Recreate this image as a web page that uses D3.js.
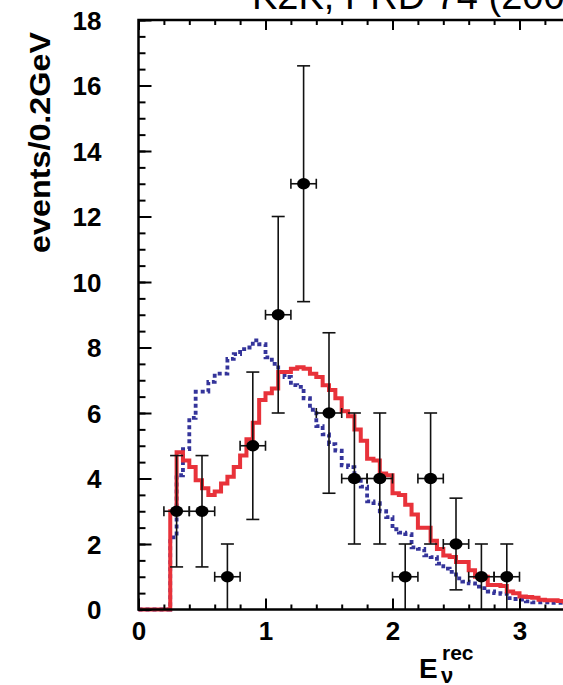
<!DOCTYPE html>
<html>
<head>
<meta charset="utf-8">
<script src="https://cdn.jsdelivr.net/npm/d3@7"></script>
<style>
  body { margin: 0; background: #fff; }
  svg { display: block; }
  text { font-family: "Liberation Sans", Arial, Helvetica, sans-serif; }
</style>
</head>
<body>
<div id="wrapper"></div>
<script>
// histogram bins (0.05 GeV wide, starting at 0)
const binWidth = 0.05
const redHist = [0, 0, 0, 0, 0, 3.0, 4.8, 4.55, 4.35, 3.95,
  3.7, 3.5, 3.6, 3.85, 4.05, 4.35, 4.7, 5.2, 5.7, 6.4,
  6.6, 6.75, 7.25, 7.25, 7.35, 7.4, 7.35, 7.2, 7.1, 6.85,
  6.7, 6.45, 6.05, 5.9, 5.5, 5.15, 4.6, 4.55, 4.15, 4.1,
  3.55, 3.5, 3.2, 2.9, 2.5, 2.5, 2.1, 1.85, 1.65, 1.6,
  1.45, 1.45, 1.2, 1.0, 1.0, 0.75, 0.75, 0.72, 0.55, 0.5,
  0.4, 0.38, 0.36, 0.3, 0.28, 0.28, 0.26, 0.24]
const blueHist = [0, 0, 0, 0, 0, 2.2, 4.1, 4.9, 5.85, 6.65,
  6.65, 6.95, 7.2, 7.2, 7.65, 7.8, 7.95, 8.0, 8.22, 8.1,
  7.7, 7.5, 7.25, 7.1, 6.85, 6.8, 6.45, 6.1, 5.6, 5.35,
  5.05, 4.85, 4.4, 4.35, 4.0, 3.75, 3.3, 3.25, 3.0, 2.82,
  2.45, 2.35, 2.3, 1.9, 1.85, 1.65, 1.6, 1.4, 1.25, 1.15,
  0.95, 0.85, 0.8, 0.7, 0.65, 0.55, 0.5, 0.48, 0.35, 0.32,
  0.3, 0.25, 0.22, 0.22, 0.22, 0.2, 0.2, 0.2]

// data points (0.2 GeV bins)
const ptE = [0.3, 0.5, 0.7, 0.9, 1.1, 1.3, 1.5, 1.7, 1.9, 2.1, 2.3, 2.5, 2.7, 2.9]
const ptN = [3, 3, 1, 5, 9, 13, 6, 4, 4, 1, 4, 2, 1, 1]
const ptErr = [1.7, 1.7, 1.0, 2.25, 3.0, 3.6, 2.45, 2.0, 2.0, 1.0, 2.0, 1.4, 1.0, 1.0]
const ptHalfWidth = 0.1

// ticks
const yMajor = [0, 2, 4, 6, 8, 10, 12, 14, 16, 18]
const yMinor = d3.range(0, 18.01, 0.5)
const xMajor = [0, 1, 2, 3]
const xMinor = d3.range(0, 3.41, 0.2)

const svgWidth = 563
const svgHeight = 685
const plotLeft = 138.5
const plotBottom = 609.5
const plotTop = 20

const svg = d3.select("#wrapper").append("svg")
  .attr("width", svgWidth)
  .attr("height", svgHeight)

const xScale = d3.scaleLinear().domain([0, 3.4]).range([plotLeft, plotLeft + 3.4 * 127])
const yScale = d3.scaleLinear().domain([0, 18]).range([plotBottom, plotTop])

// title, cut off at the top of the picture
svg.append("text")
  .attr("x", 252)
  .attr("y", 9)
  .style("font-size", "38px")
  .text("K2K, PRD 74 (2006)")

const plot = svg.append("g")

// histograms as steps
const stepLine = d3.line()
  .x(d => xScale(d[0]))
  .y(d => yScale(d[1]))
  .curve(d3.curveStepAfter)

const toSteps = vals => {
  const pts = vals.map((v, i) => [i * binWidth, v])
  pts.push([vals.length * binWidth, vals[vals.length - 1]])
  return pts
}

plot.append("path")
  .attr("d", stepLine(toSteps(blueHist)))
  .attr("fill", "none")
  .attr("stroke", "#34349a")
  .attr("stroke-width", 3.8)
  .attr("stroke-dasharray", "4,3")

plot.append("path")
  .attr("d", stepLine(toSteps(redHist)))
  .attr("fill", "none")
  .attr("stroke", "#e8323a")
  .attr("stroke-width", 4)

// data points with error bars
const points = ptE.map((e, i) => ({ e, n: ptN[i], err: ptErr[i] }))

const pts = plot.selectAll(".pt")
  .data(points)
  .join("g")
  .attr("class", "pt")
  .attr("stroke", "#111")
  .attr("stroke-width", 1.6)

pts.append("line")
  .attr("x1", d => xScale(d.e))
  .attr("x2", d => xScale(d.e))
  .attr("y1", d => yScale(Math.max(0, d.n - d.err)))
  .attr("y2", d => yScale(d.n + d.err))
pts.append("line")
  .attr("x1", d => xScale(d.e) - 6.5)
  .attr("x2", d => xScale(d.e) + 6.5)
  .attr("y1", d => yScale(d.n + d.err))
  .attr("y2", d => yScale(d.n + d.err))
pts.filter(d => d.n - d.err > 0.01).append("line")
  .attr("x1", d => xScale(d.e) - 6.5)
  .attr("x2", d => xScale(d.e) + 6.5)
  .attr("y1", d => yScale(d.n - d.err))
  .attr("y2", d => yScale(d.n - d.err))
pts.append("line")
  .attr("x1", d => xScale(d.e - ptHalfWidth))
  .attr("x2", d => xScale(d.e + ptHalfWidth))
  .attr("y1", d => yScale(d.n))
  .attr("y2", d => yScale(d.n))
pts.append("line")
  .attr("x1", d => xScale(d.e - ptHalfWidth))
  .attr("x2", d => xScale(d.e - ptHalfWidth))
  .attr("y1", d => yScale(d.n) - 5)
  .attr("y2", d => yScale(d.n) + 5)
pts.append("line")
  .attr("x1", d => xScale(d.e + ptHalfWidth))
  .attr("x2", d => xScale(d.e + ptHalfWidth))
  .attr("y1", d => yScale(d.n) - 5)
  .attr("y2", d => yScale(d.n) + 5)
pts.append("ellipse")
  .attr("cx", d => xScale(d.e))
  .attr("cy", d => yScale(d.n))
  .attr("rx", 6.5)
  .attr("ry", 5.8)
  .attr("fill", "#000")
  .attr("stroke", "none")

// axes
const styleAxis = g => {
  g.select(".domain").remove()
  g.selectAll(".tick line").attr("stroke", "#000").attr("stroke-width", 2)
  g.selectAll("text")
    .attr("fill", "#000")
    .style("font-size", "26px")
    .style("font-weight", "bold")
    .style("font-family", "'Liberation Sans', Arial, sans-serif")
}

svg.append("g")
  .attr("transform", `translate(${plotLeft},0)`)
  .call(d3.axisLeft(yScale).tickValues(yMinor).tickSize(-7).tickFormat(""))
  .call(styleAxis)
svg.append("g")
  .attr("transform", `translate(${plotLeft},0)`)
  .call(d3.axisLeft(yScale).tickValues(yMajor).tickSize(-13).tickPadding(37))
  .call(styleAxis)
  .selectAll("text").attr("dy", "0.36em")

svg.append("g")
  .attr("transform", `translate(0,${plotBottom})`)
  .call(d3.axisBottom(xScale).tickValues(xMinor).tickSize(-5).tickFormat(""))
  .call(styleAxis)
svg.append("g")
  .attr("transform", `translate(0,${plotBottom})`)
  .call(d3.axisBottom(xScale).tickValues(xMajor).tickSize(-11).tickPadding(12).tickFormat(d3.format("d")))
  .call(styleAxis)

svg.append("g")
  .attr("transform", `translate(0,${plotTop})`)
  .call(d3.axisTop(xScale).tickValues(xMinor).tickSize(-5).tickFormat(""))
  .call(styleAxis)
svg.append("g")
  .attr("transform", `translate(0,${plotTop})`)
  .call(d3.axisTop(xScale).tickValues(xMajor).tickSize(-10).tickFormat(""))
  .call(styleAxis)

// frame
svg.append("path")
  .attr("d", `M${svgWidth + 5},${plotTop}H${plotLeft}V${plotBottom}H${svgWidth + 5}`)
  .attr("fill", "none")
  .attr("stroke", "#000")
  .attr("stroke-width", 2.5)

// axis titles
svg.append("text")
  .attr("transform", `translate(50,142.5) rotate(-90)`)
  .attr("text-anchor", "middle")
  .attr("textLength", 221)
  .attr("lengthAdjust", "spacingAndGlyphs")
  .style("font-size", "29px")
  .style("font-weight", "bold")
  .text("events/0.2GeV")

const xl = svg.append("text")
  .attr("x", 419)
  .attr("y", 678)
  .style("font-weight", "bold")
xl.append("tspan").style("font-size", "28px").text("E")
xl.append("tspan").attr("x", 442).attr("y", 660).style("font-size", "21px").text("rec")
xl.append("tspan").attr("x", 441).attr("y", 683).style("font-size", "22px").text("ν")
</script>
</body>
</html>
